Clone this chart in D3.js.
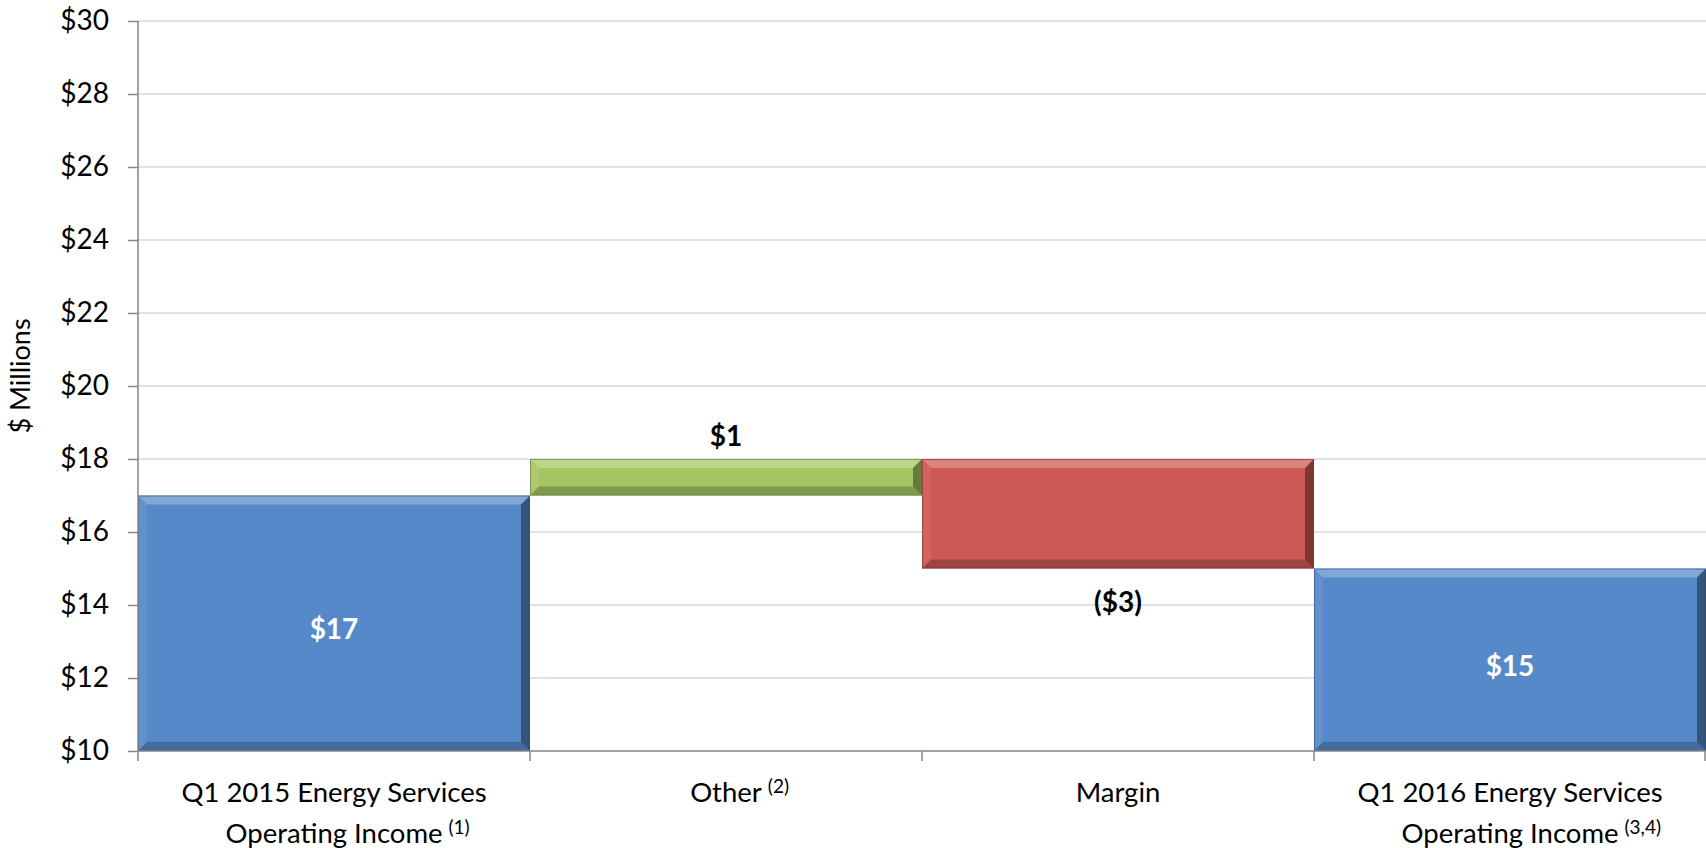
<!DOCTYPE html>
<html>
<head>
<meta charset="utf-8">
<script src="https://cdn.jsdelivr.net/npm/d3@7"></script>
<style>
  html, body { margin: 0; padding: 0; background: #fff; }
  svg { display: block; }
  text { font-family: Lato, "Open Sans", sans-serif; }
</style>
</head>
<body>
<svg id="chart" width="1706" height="848"></svg>
<script>
// ---- data ----
const categoryLines = [
  ["Q1 2015 Energy Services", "Operating Income"],
  ["Other"],
  ["Margin"],
  ["Q1 2016 Energy Services", "Operating Income"]
];
const footnotes = ["(1)", "(2)", "", "(3,4)"];
const barStart = [10, 17, 18, 10];
const barEnd   = [17, 18, 15, 15];
const barLabels = ["$17", "$1", "($3)", "$15"];
const barTypes = ["total", "increase", "decrease", "total"];
const yTickValues = [10, 12, 14, 16, 18, 20, 22, 24, 26, 28, 30];
const yTitle = "$ Millions";

// ---- layout ----
const svg = d3.select("#chart");
const margin = { left: 138, right: 0, top: 21, bottom: 97 };
const W = 1706, H = 848;
const plotW = W - margin.left - margin.right;
const plotH = H - margin.top - margin.bottom;

const colors = { total: "#5689C9", increase: "#A5C563", decrease: "#CE5855" };
const edge = { total: "#2C4D74", increase: "#5F7835", decrease: "#7A2F2D" };

const x = d3.scaleBand().domain(d3.range(categoryLines.length)).range([0, plotW]).padding(0);
const y = d3.scaleLinear().domain([10, 30]).range([plotH, 0]);

const g = svg.append("g").attr("transform", `translate(${margin.left},${margin.top})`);

// gridlines
g.append("g").selectAll("line").data(yTickValues.filter(v => v > 10)).join("line")
  .attr("x1", 0).attr("x2", plotW)
  .attr("y1", d => y(d)).attr("y2", d => y(d))
  .attr("stroke", "#D9D9D9").attr("stroke-width", 1.3);

// bars with bevel
const bars = g.append("g");
barStart.forEach((s, i) => {
  const x0 = x(i), x1 = x(i) + x.bandwidth();
  const yA = y(Math.max(s, barEnd[i])), yB = y(Math.min(s, barEnd[i]));
  const t = barTypes[i];
  const b = 9;
  const bg = bars.append("g");
  bg.append("rect").attr("x", x0).attr("y", yA).attr("width", x1 - x0).attr("height", yB - yA)
    .attr("fill", colors[t]);
  bg.append("polygon").attr("points", [[x0, yA], [x1, yA], [x1 - b, yA + b], [x0 + b, yA + b]].join(" "))
    .attr("fill", "#fff").attr("opacity", 0.26);
  bg.append("polygon").attr("points", [[x0, yA], [x0 + b, yA + b], [x0 + b, yB - b], [x0, yB]].join(" "))
    .attr("fill", "#fff").attr("opacity", 0.07);
  bg.append("polygon").attr("points", [[x0, yB], [x1, yB], [x1 - b, yB - b], [x0 + b, yB - b]].join(" "))
    .attr("fill", "#000").attr("opacity", 0.22);
  bg.append("polygon").attr("points", [[x1, yA], [x1 - b, yA + b], [x1 - b, yB - b], [x1, yB]].join(" "))
    .attr("fill", "#000").attr("opacity", 0.38);
  bg.append("rect").attr("x", x0 + 0.5).attr("y", yA + 0.5).attr("width", x1 - x0 - 1).attr("height", yB - yA - 1)
    .attr("fill", "none").attr("stroke", edge[t]).attr("stroke-opacity", 0.6).attr("stroke-width", 1);
});

// bar labels
barLabels.forEach((lab, i) => {
  const t = barTypes[i];
  const top = y(Math.max(barStart[i], barEnd[i])), bot = y(Math.min(barStart[i], barEnd[i]));
  let ly, fill;
  if (t === "total") { ly = (top + bot) / 2 + 5; fill = "#fff"; }
  else if (t === "increase") { ly = top - 24; fill = "#000"; }
  else { ly = bot + 32; fill = "#000"; }
  g.append("text").attr("x", x(i) + x.bandwidth() / 2).attr("y", ly)
    .attr("text-anchor", "middle").attr("dominant-baseline", "central")
    .attr("font-size", 28).attr("font-weight", 700).attr("fill", fill).text(lab);
});

// y axis
const yAxis = d3.axisLeft(y).tickValues(yTickValues).tickSize(10).tickPadding(19).tickFormat(d => "$" + d);
const ya = g.append("g").call(yAxis);
ya.select(".domain").attr("stroke", "#868686").attr("stroke-width", 1.5).attr("d", `M0,0V${plotH}`);
ya.selectAll(".tick line").attr("stroke", "#868686").attr("stroke-width", 1.5);
ya.selectAll(".tick text").attr("font-size", 28).attr("fill", "#000").attr("font-family", "Lato, sans-serif");

// x axis
const xa = g.append("g").attr("transform", `translate(0,${plotH})`);
xa.append("line").attr("x1", 0).attr("x2", plotW).attr("stroke", "#868686").attr("stroke-width", 1.5);
xa.selectAll("line.tk").data(d3.range(categoryLines.length + 1)).join("line").attr("class", "tk")
  .attr("x1", d => Math.min(d * x.bandwidth(), plotW - 1)).attr("x2", d => Math.min(d * x.bandwidth(), plotW - 1))
  .attr("y1", 0).attr("y2", 10).attr("stroke", "#868686").attr("stroke-width", 1.5);

categoryLines.forEach((lines, i) => {
  const cx = x(i) + x.bandwidth() / 2;
  lines.forEach((ln, j) => {
    const ty = 51 + j * 41;
    const tx = xa.append("text").attr("x", cx).attr("y", ty)
      .attr("text-anchor", "middle").attr("font-size", 27.5).attr("fill", "#000").text(ln);
    if (j === lines.length - 1 && footnotes[i]) {
      const w = tx.node().getComputedTextLength();
      xa.append("text").attr("x", cx + w / 2 + 6).attr("y", ty - 9)
        .attr("font-size", 19).attr("fill", "#000").text(footnotes[i]);
    }
  });
});

// y title
svg.append("text").attr("transform", `translate(30,${margin.top + 355}) rotate(-90)`)
  .attr("text-anchor", "middle").attr("font-size", 27).attr("fill", "#000").text(yTitle);
</script>
</body>
</html>
